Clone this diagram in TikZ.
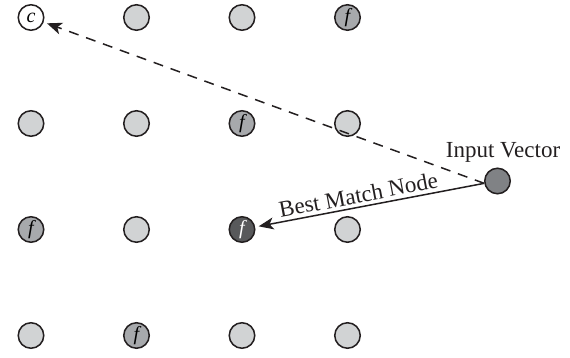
\documentclass[tikz,border=0pt]{standalone}
\usepackage{fontspec}
\setmainfont{Liberation Serif}
\usetikzlibrary{arrows.meta}

\definecolor{unitlight}{HTML}{D1D3D4}
\definecolor{unitmid}{HTML}{A7A9AC}
\definecolor{unitdark}{HTML}{58595B}
\definecolor{inputgray}{HTML}{808285}
\definecolor{inkblack}{HTML}{231F20}

\tikzset{
  unit/.style={circle, draw=inkblack, line width=1.5pt, minimum size=25.5pt,
    inner sep=0pt, font=\fontsize{20}{20}\selectfont\itshape},
  plain/.style={unit, fill=unitlight},
  winner/.style={unit, fill=unitmid},
  bmu/.style={unit, fill=unitdark, text=white},
  empty/.style={unit, fill=white},
  inputunit/.style={unit, fill=inputgray},
  caption/.style={font=\fontsize{23}{23}\selectfont, text=inkblack},
  link/.style={draw=inkblack, line width=1.5pt, shorten >=3.5pt,
    -{Stealth[length=15pt, width=12pt, inset=4pt]}},
}

\begin{document}
\begin{tikzpicture}[x=1pt, y=1pt]
  \useasboundingbox (0,0) rectangle (570,358);

  % 4 x 4 map of units; columns at x = 31 + 105.5 i, rows at y = 340.5 - 106 j
  \node[empty]  (u00) at (31,340.5)    {c};
  \node[plain]  (u10) at (136.5,340.5) {};
  \node[plain]  (u20) at (242,340.5)   {};
  \node[winner] (u30) at (347.5,340.5) {f};

  \node[plain]  (u01) at (31,234.5)    {};
  \node[plain]  (u11) at (136.5,234.5) {};
  \node[winner] (u21) at (242,234.5)   {f};
  \node[plain]  (u31) at (347.5,234.5) {};

  \node[winner] (u02) at (31,128.5)    {f};
  \node[plain]  (u12) at (136.5,128.5) {};
  \node[bmu]    (u22) at (242,128.5)   {f};
  \node[plain]  (u32) at (347.5,128.5) {};

  \node[plain]  (u03) at (31,22.5)     {};
  \node[winner] (u13) at (136.5,22.5)  {f};
  \node[plain]  (u23) at (242,22.5)    {};
  \node[plain]  (u33) at (347.5,22.5)  {};

  % input vector and its caption
  \node[inputunit] (iv) at (497.5,177) {};
  \node[caption, anchor=base] (ivlabel) at (503,200) {Input Vector};
  \coordinate (ivout) at (iv.190);

  % connectors from the input vector
  \draw[link, dash pattern=on 10pt off 8pt] (ivout) -- (u00);
  \draw[link] (ivout) -- node[caption, sloped, above, pos=0.54] (bmlabel) {Best Match Node} (u22);
\end{tikzpicture}
\end{document}
